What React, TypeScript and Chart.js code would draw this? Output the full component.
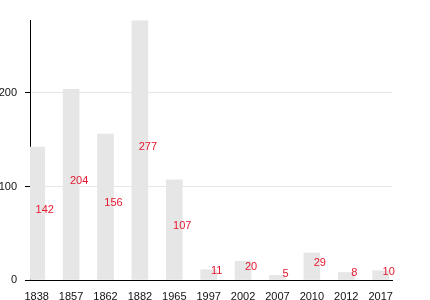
import React, { useEffect, useRef } from "react";
import { Chart, registerables } from "chart.js";

Chart.register(...registerables);

const years = ["1838", "1857", "1862", "1882", "1965", "1997", "2002", "2007", "2010", "2012", "2017"];
const population = [142, 204, 156, 277, 107, 11, 20, 5, 29, 8, 10];
const yTicks = [0, 100, 200];

const FONT = "'Liberation Sans', Arial, Helvetica, sans-serif";

const valueLabels = {
  id: "valueLabels",
  afterDatasetsDraw(chart: any) {
    const ctx = chart.ctx;
    const meta = chart.getDatasetMeta(0);
    ctx.save();
    ctx.font = `11px ${FONT}`;
    ctx.fillStyle = "#e5172f";
    ctx.textAlign = "center";
    ctx.textBaseline = "middle";
    meta.data.forEach((el: any, i: number) => {
      const x = el.x + 8;
      const y = (el.y + el.base) / 2 - 3.5;
      ctx.fillText(String(population[i]), x, y);
    });
    ctx.restore();
  },
};

export default function App() {
  const ref = useRef<HTMLCanvasElement>(null);
  useEffect(() => {
    if (!ref.current) return;
    const chart = new Chart(ref.current, {
      type: "bar",
      data: {
        datasets: [
          {
            data: population.map((v, i) => ({ x: i, y: v })),
            backgroundColor: "#e6e6e6",
            borderWidth: 0,
            barThickness: 16,
          },
        ],
      },
      options: {
        responsive: false,
        animation: false,
        layout: { padding: { top: 20, right: 38, left: 0, bottom: 0 } },
        plugins: { legend: { display: false }, tooltip: { enabled: false } },
        scales: {
          x: {
            type: "linear",
            offset: false,
            min: -0.195,
            max: 10.33,
            afterBuildTicks: (axis: any) => {
              axis.ticks = years.map((_, i) => ({ value: i }));
            },
            afterFit: (s: any) => {
              s.height = 20;
            },
            grid: { display: false },
            border: { display: true, color: "#000", width: 1 },
            ticks: {
              padding: 2,
              maxRotation: 0,
              autoSkip: false,
              color: "#111",
              font: { family: FONT, size: 11 },
              callback: (v: any) => years[v] ?? "",
            },
          },
          y: {
            min: 0,
            max: 278,
            afterBuildTicks: (axis: any) => {
              axis.ticks = yTicks.map((v) => ({ value: v }));
            },
            afterFit: (s: any) => {
              s.width = 30;
            },
            grid: { color: "#e6e6e6", tickColor: "#000", tickLength: 5 },
            border: { display: true, color: "#000", width: 1 },
            ticks: {
              padding: 8,
              color: "#111",
              font: { family: FONT, size: 11 },
            },
          },
        },
      },
      plugins: [valueLabels],
    });
    return () => chart.destroy();
  }, []);
  return (
    <div style={{ position: "absolute", left: 0, top: 0, width: 430, height: 300, background: "#fff" }}>
      <canvas ref={ref} width={430} height={300} />
    </div>
  );
}
